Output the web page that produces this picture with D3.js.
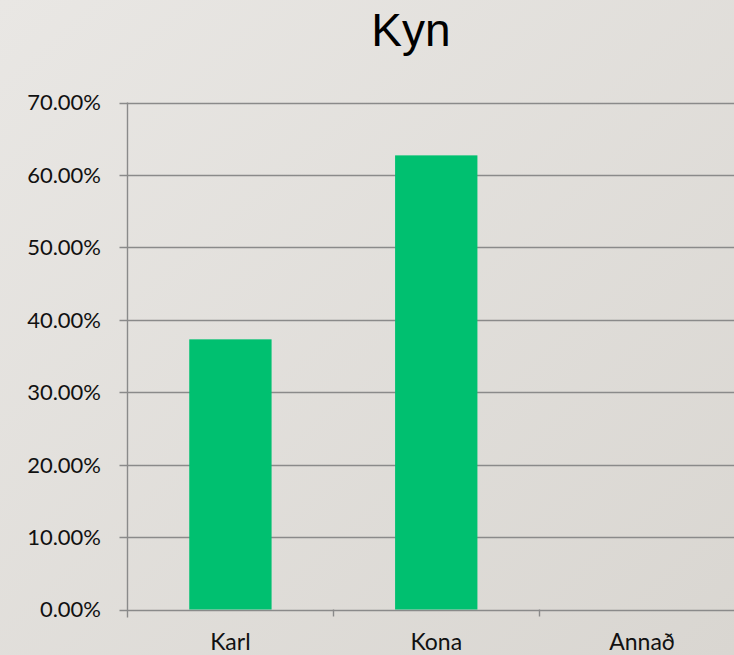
<!DOCTYPE html>
<html><head><meta charset="utf-8">
<script src="https://cdn.jsdelivr.net/npm/d3@7"></script>
<style>html,body{margin:0;padding:0;overflow:hidden;}svg{display:block;}</style>
</head><body>
<svg id="chart" width="734" height="655"></svg>
<script>
const categories = ["Karl", "Kona", "Annað"];
const values = [0.373, 0.627, 0];
const yTicks = [0, 0.1, 0.2, 0.3, 0.4, 0.5, 0.6, 0.7];
const title = "Kyn";

(function(){
const W = 734, H = 655;
const svg = d3.select("#chart");
const defs = svg.append("defs");
const grad = defs.append("linearGradient").attr("id","bg").attr("x1","0").attr("y1","0").attr("x2","1").attr("y2","1");
grad.append("stop").attr("offset","0%").attr("stop-color","#e9e7e4");
grad.append("stop").attr("offset","100%").attr("stop-color","#d9d6d1");
svg.append("rect").attr("width",W).attr("height",H).attr("fill","url(#bg)");

const mLeft = 127.5, mTop = 102.5, mBottom = 609.5, mRight = 745;
const x = d3.scaleBand().domain(categories).range([mLeft, mRight]).paddingInner(0.6).paddingOuter(0.3);
const xb = d3.scaleBand().domain(categories).range([mLeft, mRight]);
const y = d3.scaleLinear().domain([0, 0.7]).range([mBottom, mTop]);

const lineColor = "#8a8a8a";
const font = "Lato, 'Gill Sans', sans-serif";

// gridlines
svg.append("g").selectAll("line").data(yTicks).join("line")
  .attr("x1", mLeft - 8).attr("x2", W)
  .attr("y1", d => Math.round(y(d)) + 0.5).attr("y2", d => Math.round(y(d)) + 0.5)
  .attr("stroke", lineColor).attr("stroke-width", 1.4);

// y axis line
svg.append("line").attr("x1", mLeft).attr("x2", mLeft).attr("y1", mTop).attr("y2", mBottom + 8)
  .attr("stroke", lineColor).attr("stroke-width", 1.4);

// x ticks at category boundaries
svg.append("g").selectAll("line").data(categories.slice(1)).join("line")
  .attr("x1", d => Math.round(xb(d)) + 0.5).attr("x2", d => Math.round(xb(d)) + 0.5)
  .attr("y1", mBottom).attr("y2", mBottom + 7)
  .attr("stroke", lineColor).attr("stroke-width", 1.4);

// bars
svg.append("g").selectAll("rect").data(categories).join("rect")
  .attr("x", d => x(d)).attr("width", x.bandwidth())
  .attr("y", (d,i) => y(values[i])).attr("height", (d,i) => y(0) - y(values[i]))
  .attr("fill", "#00c070");

// y labels
svg.append("g").selectAll("text").data(yTicks).join("text")
  .attr("x", 101).attr("y", d => y(d)).attr("dy", "0.36em")
  .attr("text-anchor", "end").attr("font-family", font).attr("font-size", 22)
  .attr("fill", "#111").text(d => d3.format(".2%")(d));

// x labels
svg.append("g").selectAll("text").data(categories).join("text")
  .attr("x", d => xb(d) + xb.bandwidth()/2).attr("y", 650)
  .attr("text-anchor", "middle").attr("font-family", font).attr("font-size", 23)
  .attr("fill", "#111").text(d => d);

// title
svg.append("text").attr("x", 411).attr("y", 46).attr("text-anchor","middle")
  .attr("font-family", "'Liberation Sans', Arial, sans-serif").attr("font-size", 46)
  .attr("fill", "#000").text(title);
})();
</script>
</body></html>
